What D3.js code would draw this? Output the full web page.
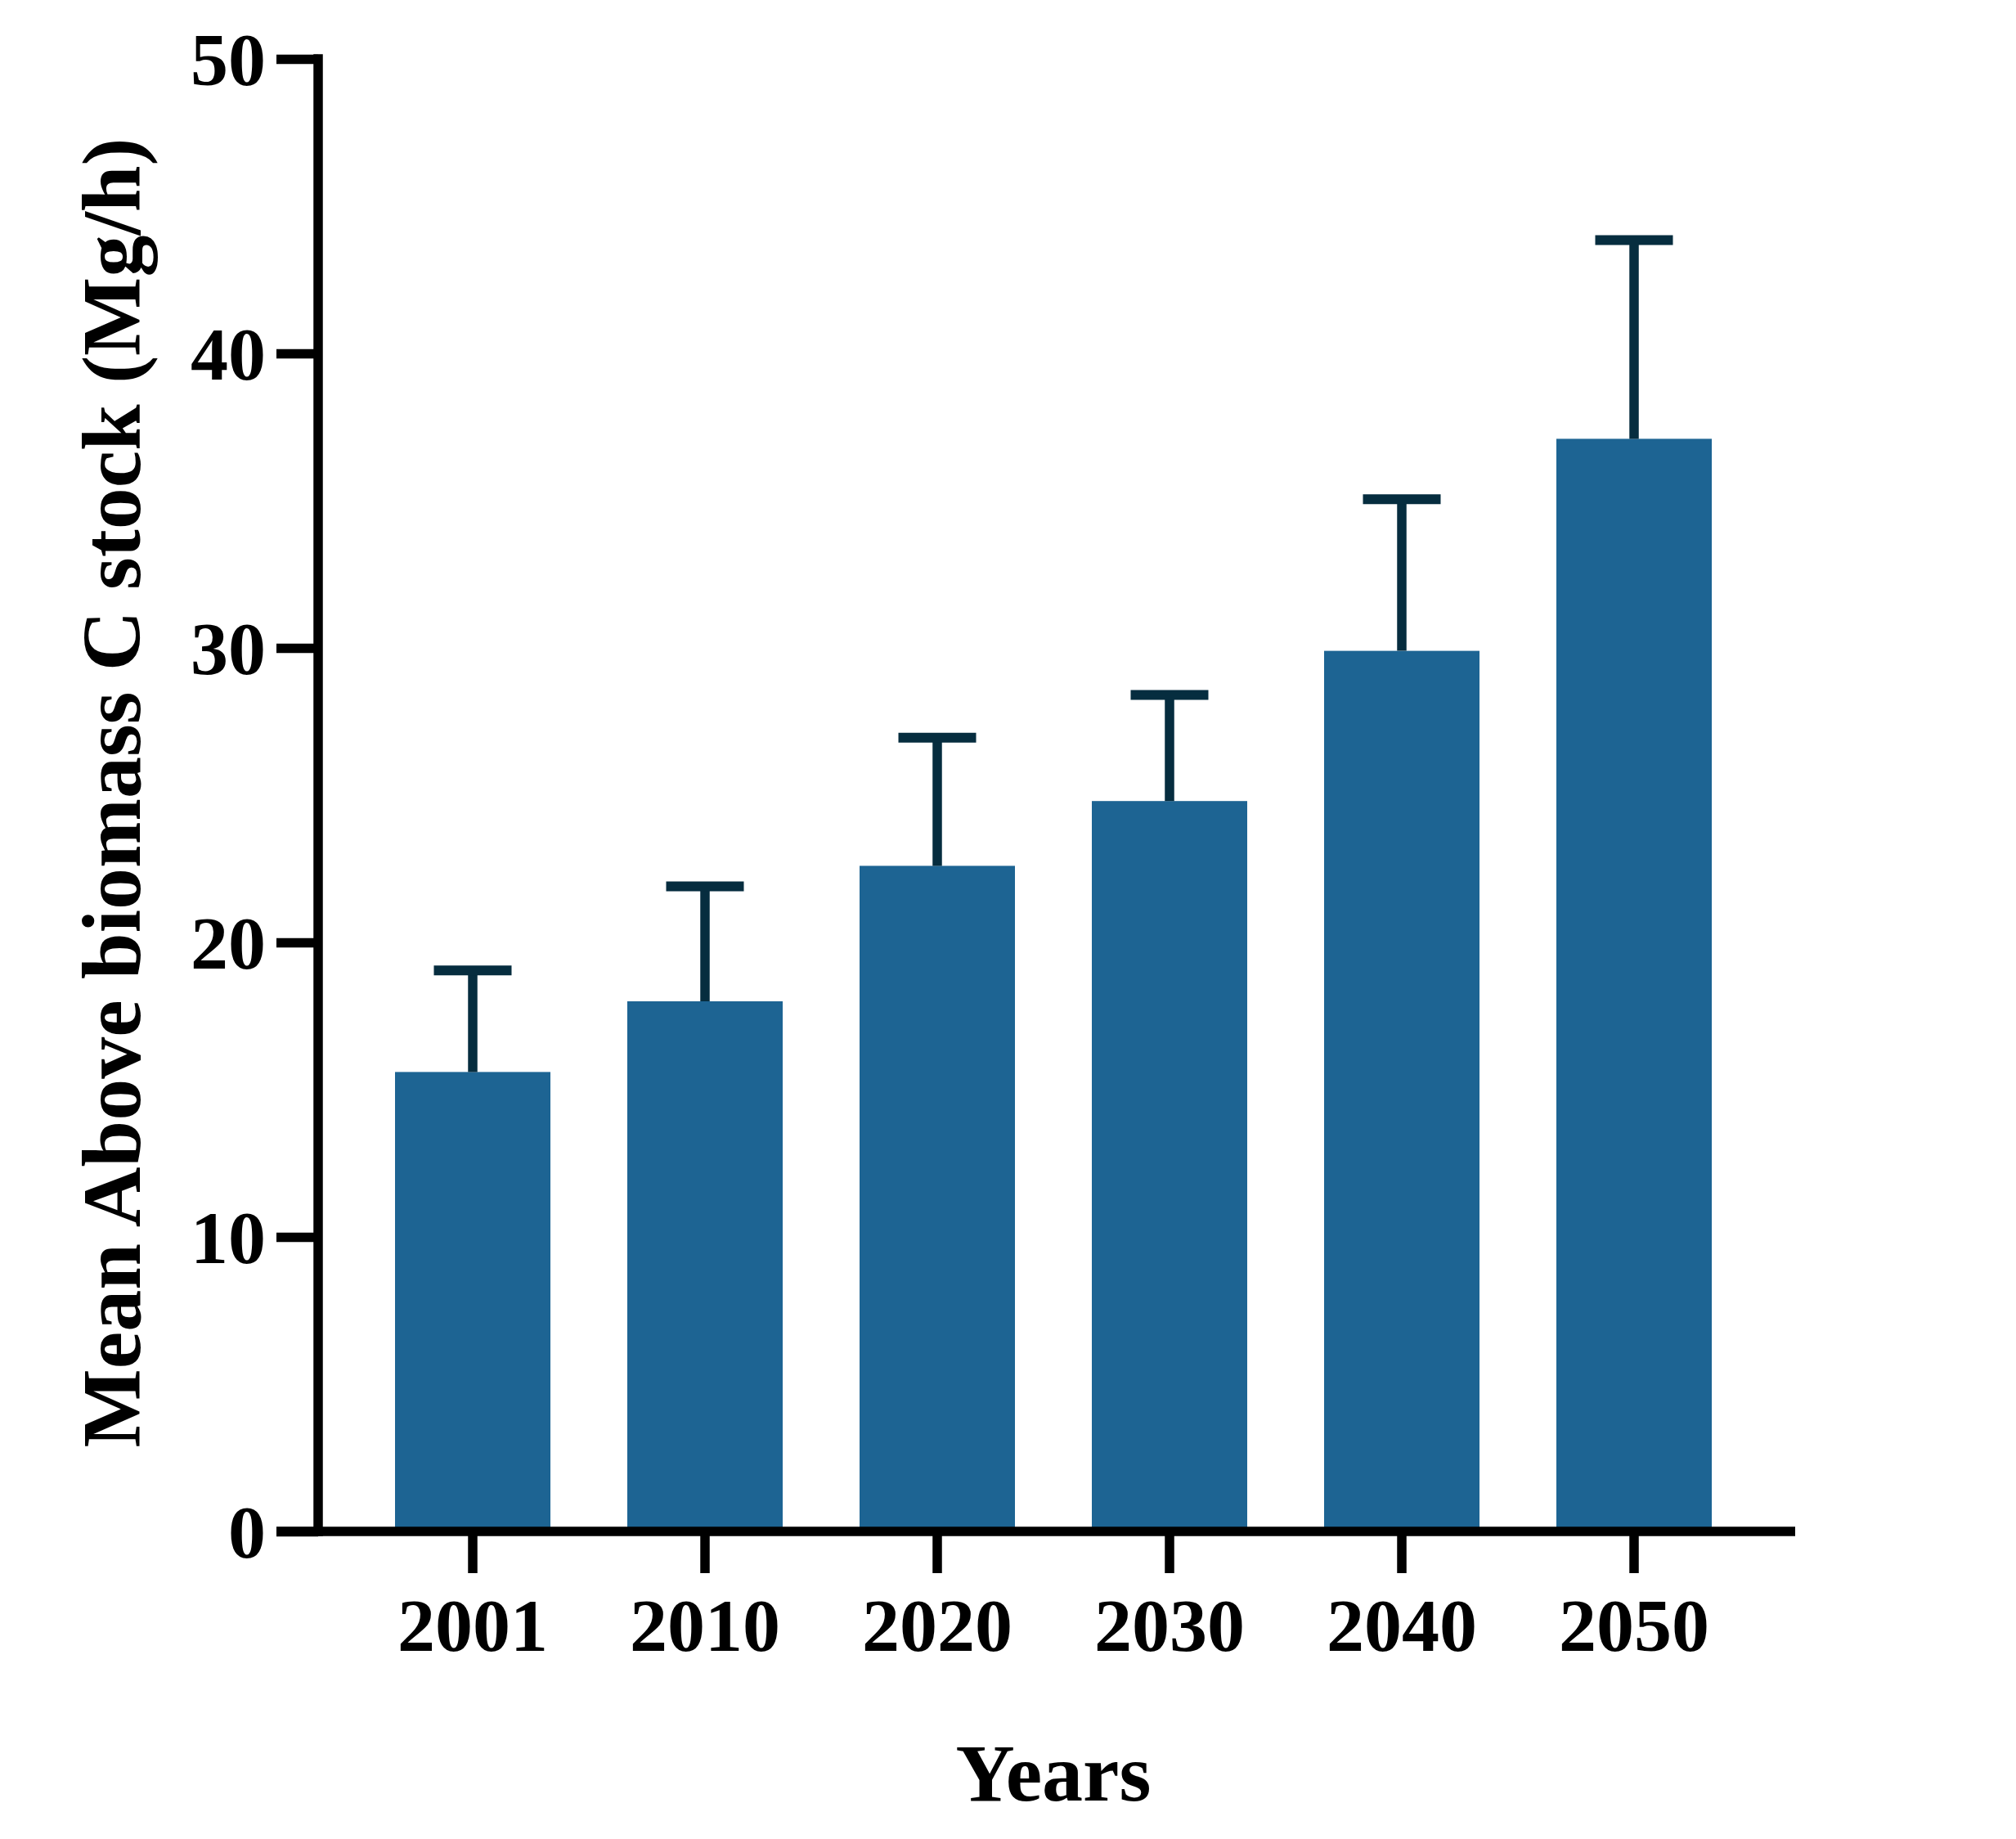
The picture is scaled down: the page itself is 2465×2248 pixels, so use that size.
<!DOCTYPE html>
<html>
<head>
<meta charset="utf-8">
<script src="https://cdn.jsdelivr.net/npm/d3@7/dist/d3.min.js"></script>
<style>
    body { margin: 0; background: #fff; }
    text { font-family: "Liberation Serif", "Times New Roman", serif; font-weight: bold; fill: #000; }
</style>
</head>
<body>
<div id="chart"></div>
<script>
    // data
    var years = ['2001', '2010', '2020', '2030', '2040', '2050'];
    var means = [15.6, 18.0, 22.6, 24.8, 29.9, 37.1];
    var errors = [3.45, 3.9, 4.35, 3.6, 5.15, 6.75];
    var yTicks = [0, 10, 20, 30, 40, 50];

    var WIDTH = 2465, HEIGHT = 2248;
    var AXIS_X = 389;      // y axis line centre
    var AXIS_W = 11.5;     // axis stroke width
    var BAR_COLOR = '#1d6493';
    var ERR_COLOR = '#062d3f';

    var svg = d3.select('#chart').append('svg')
        .attr('width', WIDTH)
        .attr('height', HEIGHT);

    // scales
    var y = d3.scaleLinear().domain([0, 50]).range([1872, 72]);
    var x = d3.scaleBand().domain(years)
        .range([436, 2140])
        .paddingInner(0.331)
        .paddingOuter(0.1655);

    var rows = years.map(function(yr, i) { return {year: yr, mean: means[i], err: errors[i]}; });

    // bars
    svg.append('g').selectAll('rect')
        .data(rows)
        .enter().append('rect')
        .attr('x', function(d) { return x(d.year); })
        .attr('y', function(d) { return y(d.mean); })
        .attr('width', x.bandwidth())
        .attr('height', function(d) { return y(0) - y(d.mean); })
        .attr('fill', BAR_COLOR);

    // error bars (upper only)
    var err = svg.append('g').selectAll('g')
        .data(rows)
        .enter().append('g');

    err.append('line')
        .attr('x1', function(d) { return x(d.year) + x.bandwidth() / 2; })
        .attr('x2', function(d) { return x(d.year) + x.bandwidth() / 2; })
        .attr('y1', function(d) { return y(d.mean); })
        .attr('y2', function(d) { return y(d.mean + d.err); })
        .attr('stroke', ERR_COLOR)
        .attr('stroke-width', 11.5);

    err.append('line')
        .attr('x1', function(d) { return x(d.year) + x.bandwidth() / 4; })
        .attr('x2', function(d) { return x(d.year) + x.bandwidth() * 3 / 4; })
        .attr('y1', function(d) { return y(d.mean + d.err); })
        .attr('y2', function(d) { return y(d.mean + d.err); })
        .attr('stroke', ERR_COLOR)
        .attr('stroke-width', 12);

    // y axis
    var yAxis = d3.axisLeft(y)
        .tickValues(yTicks)
        .tickSize(51)
        .tickPadding(13)
        .tickFormat(d3.format('d'));

    var gy = svg.append('g')
        .attr('transform', 'translate(' + AXIS_X + ',0)')
        .call(yAxis);
    gy.select('.domain').remove();
    gy.selectAll('.tick line').attr('stroke', '#000').attr('stroke-width', AXIS_W);
    gy.selectAll('.tick text')
        .attr('font-size', 92)
        .attr('font-family', null)
        .attr('dy', '0.34em');

    // x axis
    var xAxis = d3.axisBottom(x)
        .tickSize(51)
        .tickPadding(30);

    var gx = svg.append('g')
        .attr('transform', 'translate(0,' + y(0) + ')')
        .call(xAxis);
    gx.select('.domain').remove();
    gx.selectAll('.tick line').attr('stroke', '#000').attr('stroke-width', AXIS_W);
    gx.selectAll('.tick text')
        .attr('font-size', 92)
        .attr('font-family', null);

    // axis lines
    svg.append('line')
        .attr('x1', AXIS_X).attr('x2', AXIS_X)
        .attr('y1', y(50) - AXIS_W / 2)
        .attr('y2', y(0) + AXIS_W / 2)
        .attr('stroke', '#000')
        .attr('stroke-width', AXIS_W);

    svg.append('line')
        .attr('x1', AXIS_X - 51).attr('x2', 2195)
        .attr('y1', y(0)).attr('y2', y(0))
        .attr('stroke', '#000')
        .attr('stroke-width', AXIS_W);

    // titles
    svg.append('text')
        .attr('transform', 'translate(171,' + 969 + ') rotate(-90)')
        .attr('text-anchor', 'middle')
        .attr('font-size', 102)
        .text('Mean Above biomass C stock (Mg/h)');

    svg.append('text')
        .attr('x', 1288)
        .attr('y', 2201)
        .attr('text-anchor', 'middle')
        .attr('font-size', 100)
        .text('Years');
</script>
</body>
</html>
